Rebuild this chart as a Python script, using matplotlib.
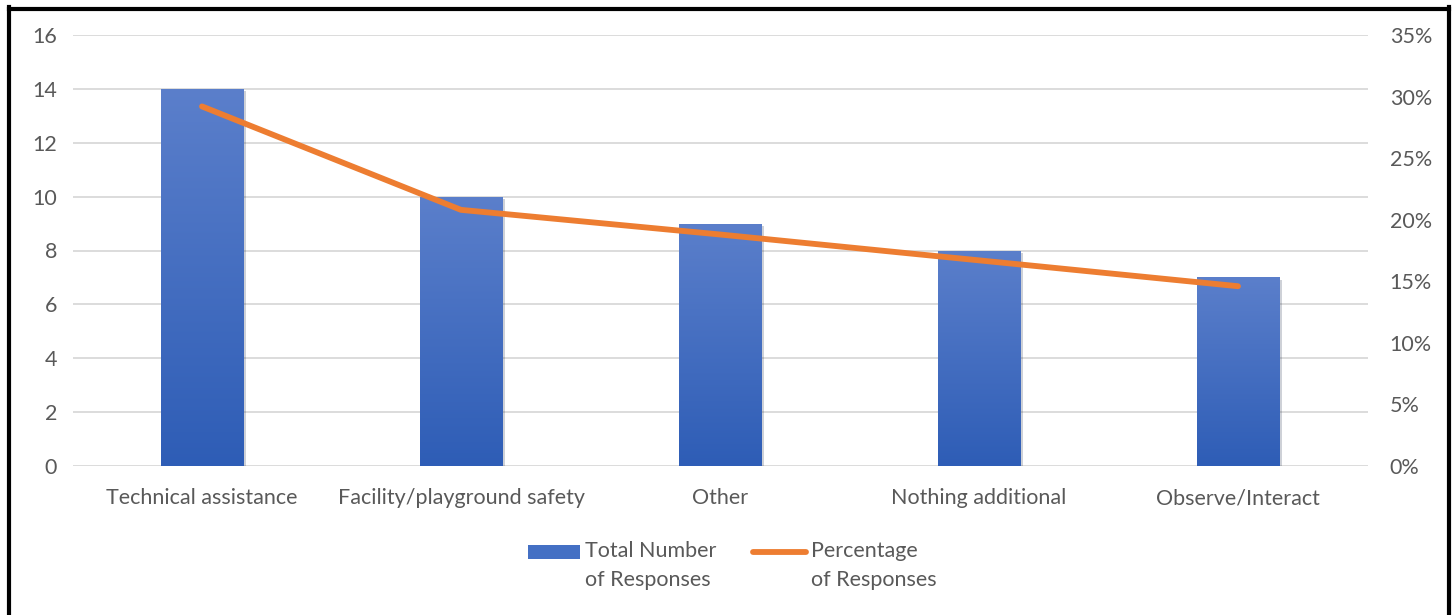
import matplotlib
matplotlib.use("Agg")
import matplotlib.pyplot as plt
import matplotlib.patheffects as pe
import numpy as np
from matplotlib.lines import Line2D
from matplotlib.patches import Rectangle
from matplotlib.ticker import PercentFormatter

plt.rcParams['font.family'] = ['Lato', 'DejaVu Sans']

categories = ['Technical assistance', 'Facility/playground safety', 'Other',
              'Nothing additional', 'Observe/Interact']
counts = [14, 10, 9, 8, 7]
percents = [29.2, 20.8, 18.8, 16.7, 14.6]
series_names = ['Total Number\nof Responses', 'Percentage\nof Responses']

text_grey = '#595959'
bar_top = '#5B7FCB'
bar_bottom = '#2E5DB6'
orange = '#ED7D31'
fs = 15.5

W, H = 1454, 615
fig = plt.figure(figsize=(W / 100, H / 100), dpi=100)
ax = fig.add_axes([72.5 / W, 1 - 466 / H, (1367.5 - 72.5) / W, (466 - 35) / H])

x = np.arange(len(categories))
bars = ax.bar(x, counts, width=0.32, color=bar_bottom, zorder=2,
              path_effects=[pe.SimplePatchShadow(offset=(1.5, -1.5), alpha=0.2), pe.Normal()])

# vertical gradient inside each bar
grad = np.linspace(0, 1, 256).reshape(-1, 1)
cmap = matplotlib.colors.LinearSegmentedColormap.from_list('barfill', [bar_bottom, bar_top])
for b in bars:
    im = ax.imshow(grad, cmap=cmap, aspect='auto', origin='lower', zorder=3,
                   extent=[b.get_x(), b.get_x() + b.get_width(), 0, b.get_height()])
    im.set_clip_path(b)

ax.set_xlim(-0.5, len(categories) - 0.5)
ax.set_ylim(0, 16)
ax.set_yticks(range(0, 17, 2))
ax.set_xticks(x)
ax.set_xticklabels(categories)
ax.grid(axis='y', color='#D9D9D9', linewidth=1.3)
ax.set_axisbelow(True)
for s in ax.spines.values():
    s.set_visible(False)
ax.tick_params(axis='y', length=0, pad=11, labelsize=fs, labelcolor=text_grey)
ax.tick_params(axis='x', length=0, pad=16, labelsize=fs, labelcolor=text_grey)

ax2 = ax.twinx()
ax2.plot(x, percents, color=orange, linewidth=4.2, solid_capstyle='round',
         solid_joinstyle='round', zorder=5)
ax2.set_ylim(0, 35)
ax2.set_yticks(range(0, 36, 5))
ax2.yaxis.set_major_formatter(PercentFormatter(decimals=0))
for s in ax2.spines.values():
    s.set_visible(False)
ax2.tick_params(axis='y', length=0, pad=16, labelsize=fs, labelcolor=text_grey)

# legend: key aligned with the first line of each two-line label
tf = fig.transFigure
key_y = 1 - 552 / H
fig.add_artist(Rectangle((528 / W, key_y - 7 / H), 52 / W, 14 / H, transform=tf,
                         facecolor='#4470C4', edgecolor='none'))
fig.text(585 / W, 1 - 541 / H, series_names[0], transform=tf, ha='left', va='top',
         fontsize=fs, color=text_grey, linespacing=1.55)
fig.add_artist(Line2D([753 / W, 806 / W], [key_y, key_y], transform=tf, color=orange,
                      linewidth=4.2, solid_capstyle='round'))
fig.text(811 / W, 1 - 541 / H, series_names[1], transform=tf, ha='left', va='top',
         fontsize=fs, color=text_grey, linespacing=1.55)

# frame around the figure (left, top, right)
border = dict(color='black', linewidth=3, transform=tf, clip_on=False)
fig.add_artist(Line2D([9 / W, 9 / W], [0, 1 - 7 / H], **border))
fig.add_artist(Line2D([9 / W, 1449 / W], [1 - 8.5 / H, 1 - 8.5 / H], **border))
fig.add_artist(Line2D([1449 / W, 1449 / W], [0, 1 - 7 / H], **border))

fig.savefig('out.png', dpi=100)
